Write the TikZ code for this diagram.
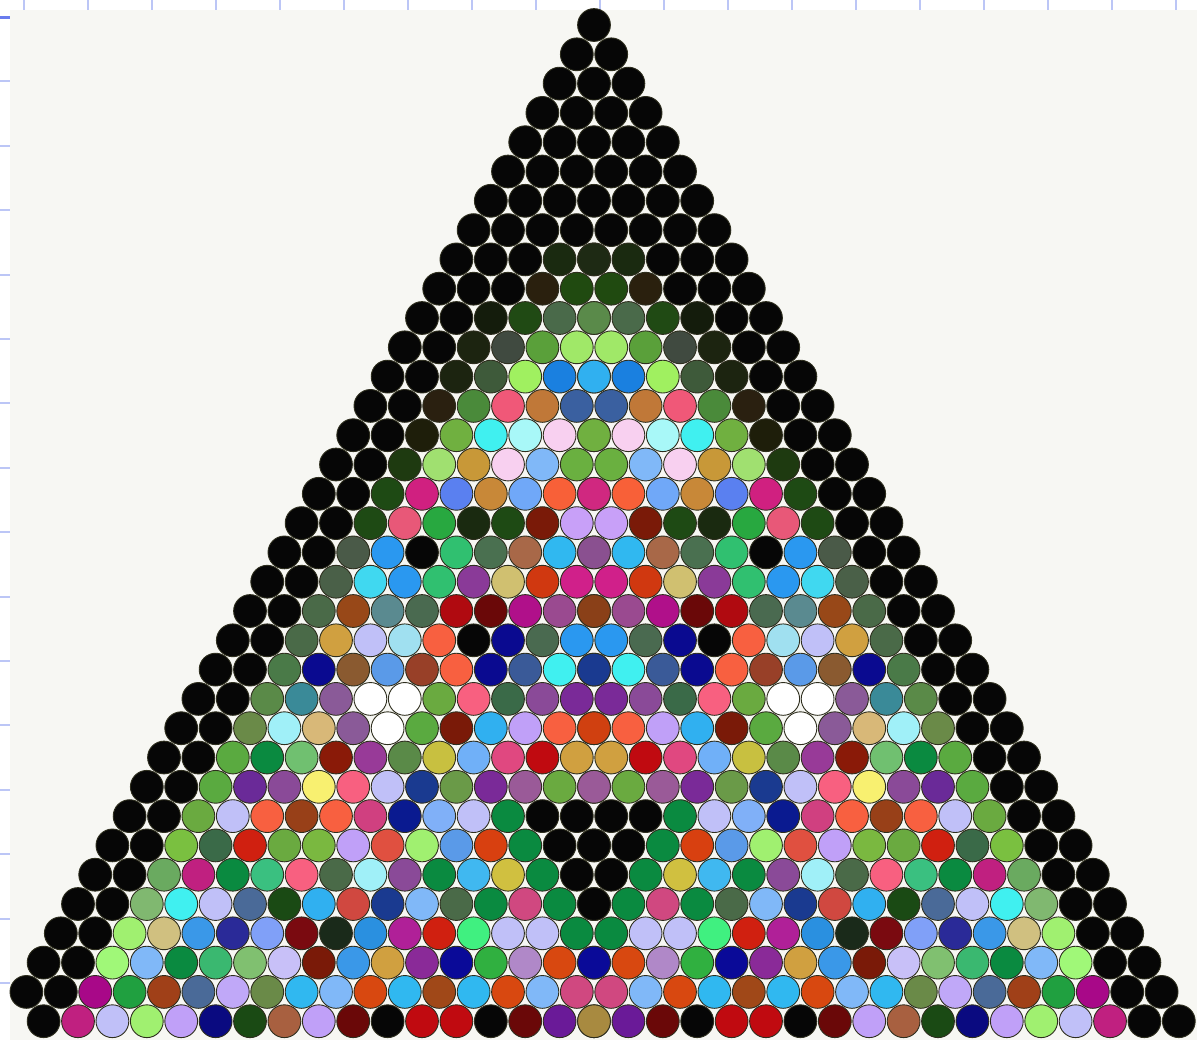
\documentclass[tikz,border=0pt]{standalone}
\usepackage{tikz}

\definecolor{paper}{HTML}{F7F7F3}
\definecolor{rulerblue}{HTML}{BCC6F6}
\definecolor{rulermark}{HTML}{6A7CEE}
\definecolor{beadrim}{HTML}{2E2E1E}
\definecolor{beadblack}{HTML}{060606}
\tikzset{bead/.style={draw=beadrim, line width=0.45pt}}

% one row of beads: [first k]{row n}{colours for k = first .. n/2}, mirrored to the right
\newcommand\beadrow[3][0]{%
  \foreach \hex [count=\k from #1] in {#3} {
    \definecolor{beadfill}{HTML}{\hex}
    \path[bead, fill=beadfill] ({594+(\k-#2/2)*34.4},{25+29.3*#2}) circle (16.4);
    \path[bead, fill=beadfill] ({594+(#2/2-\k)*34.4},{25+29.3*#2}) circle (16.4);
  }}

\begin{document}
\begin{tikzpicture}[x=0.5pt, y=-0.5pt]
  \useasboundingbox (0,0) rectangle (1197,1040);
  \fill[white] (0,0) rectangle (1197,1040);
  \fill[paper] (10,10) rectangle (1197,1040);
  % ruler ticks along the top and left edges
  \foreach \i in {0,...,18}
    \draw[rulerblue, line width=1.1pt] ({24+64*\i},0) -- ({24+64*\i},10);
  \foreach \i in {1,...,15}
    \draw[rulerblue, line width=1pt] (0,{17+64.4*\i}) -- (10,{17+64.4*\i});
  \draw[rulermark, line width=1.5pt] (0,17) -- (10,17);

  % rows 0-7 are all black
  \foreach \n in {0,...,7}
    \foreach \k in {0,...,\n}
      \path[bead, fill=beadblack] ({594+(\k-\n/2)*34.4},{25+29.3*\n}) circle (16.4);

  \beadrow{8}{060606,060606,060606,1A2A10,1E2A14}
  \beadrow{9}{060606,060606,060606,2A200E,204A10}
  \beadrow{10}{060606,060606,141C0C,204A14,4A6A4A,5A8A4A}
  \beadrow{11}{060606,060606,1C2410,404A40,5AA03A,A0E868}
  \beadrow{12}{060606,060606,1C2410,3E5A3A,A0F060,1A80E0,30B0F0}
  \beadrow{13}{060606,060606,2A2010,4A8A3A,F05878,C07838,3A60A0}
  \beadrow{14}{060606,060606,1E1E0A,70B040,40F0F0,A8F8F8,F8D0F0,70B040}
  \beadrow{15}{060606,060606,1E3A10,A0E070,C89838,F8D0F0,80B8F8,6AB040}
  \beadrow{16}{060606,060606,1E4A14,D02080,5A80F0,C88838,70A8F8,F86038,D02880}
  \beadrow{17}{060606,060606,1E4A14,E85878,28A840,1A2A10,1E4A14,7A1A08,C8A0F8}
  \beadrow{18}{060606,060606,4A5A48,2A98F0,060606,30C070,4A7050,A86848,30B8F0,8A5090}
  \beadrow{19}{060606,060606,4A6048,40D8F0,2A98F0,30C070,8A3A98,D0C070,D03810,D0208A}
  \beadrow{20}{060606,060606,4A6A48,984818,5A8A90,4A6A50,B00A10,6A0808,B0108A,9A4A90,8A4018}
  \beadrow{21}{060606,060606,4A6A48,D0A040,C0C0F8,A0E0F0,F86040,060606,0A0A90,4A6A50,2A98F0}
  \beadrow{22}{060606,060606,4A7A48,0A0A90,8A5A30,5A9AE8,984028,F86040,0A0A90,3A5A98,40F0F0,1A3A90}
  \beadrow{23}{060606,060606,5A8A48,3A8A98,8A5A98,FFFFFF,FFFFFF,6AAA40,F86080,3A6A48,8A4A98,7A2A98}
  \beadrow{24}{060606,060606,6A8A48,A0F0F8,D8B878,8A5A98,FFFFFF,5AAA40,7A1A08,30B0F0,C0A0F8,F86040,D04010}
  \beadrow{25}{060606,060606,5AAA40,0A8A40,70C070,8A1A08,983A98,5A8A48,C8C040,70B0F8,E04880,C00A10,D0A040}
  \beadrow{26}{060606,060606,5AAA40,6A2A98,8A4A98,F8F070,F86080,C0C0F8,1A3A90,6A9A48,7A2A98,9A5A98,6AAA40,9A5A98}
  \beadrow{27}{060606,060606,6AAA40,C0C0F8,F86040,984018,F86040,D04080,0A1A90,80B0F8,C0C0F8,0A8A40,060606,060606}
  \beadrow{28}{060606,060606,7AC040,3A6A48,D02010,6AAA40,7AB840,C0A0F8,E05040,A0F070,5A9AE8,D84010,0A8A40,060606,060606}
  \beadrow{29}{060606,060606,6AAA60,C02080,0A8A40,3AC080,F86080,4A6A48,A0F0F8,8A4A98,0A8A40,40B8F0,D0C040,0A8A40,060606}
  \beadrow{30}{060606,060606,80B870,40F0F0,C0C0F8,4A6A98,1A4A14,30B0F0,D04840,1A3A90,80B8F8,4A6A48,0A8A40,D04880,0A8A40,060606}
  \beadrow{31}{060606,060606,A0F070,D0C080,3A98E8,2A2A98,80A0F8,7A0A10,1A2A1A,2A90E0,B02098,D02010,40F080,C0C0F8,C0C0F8,0A8A40}
  \beadrow{32}{060606,060606,A0F878,80B8F8,0A8A40,3AB870,80C070,C8C0F8,7A1A08,3A98E8,D0A040,8A2A98,0A0A98,30B040,B088C8,D84810,0A0A98}
  \beadrow{33}{060606,060606,A80888,20A040,A04018,4A6A98,C0A8F8,6A8A48,30B8F0,80B8F8,D84810,30B8F0,A04818,30B8F0,D84810,80B8F8,D04880}
  % bottom row has no bead at its left end
  \beadrow[1]{34}{060606,C02080,C0C0F8,A0F070,C0A0F8,0A0A80,1A4A14,A86040,C0A0F8,6A0808,060606,C00A10,C00A10,060606,6A0808,6A1A98,A88A40}
  \path[bead, fill=beadblack] ({594+17*34.4},{25+29.3*34}) circle (16.4);
\end{tikzpicture}
\end{document}
